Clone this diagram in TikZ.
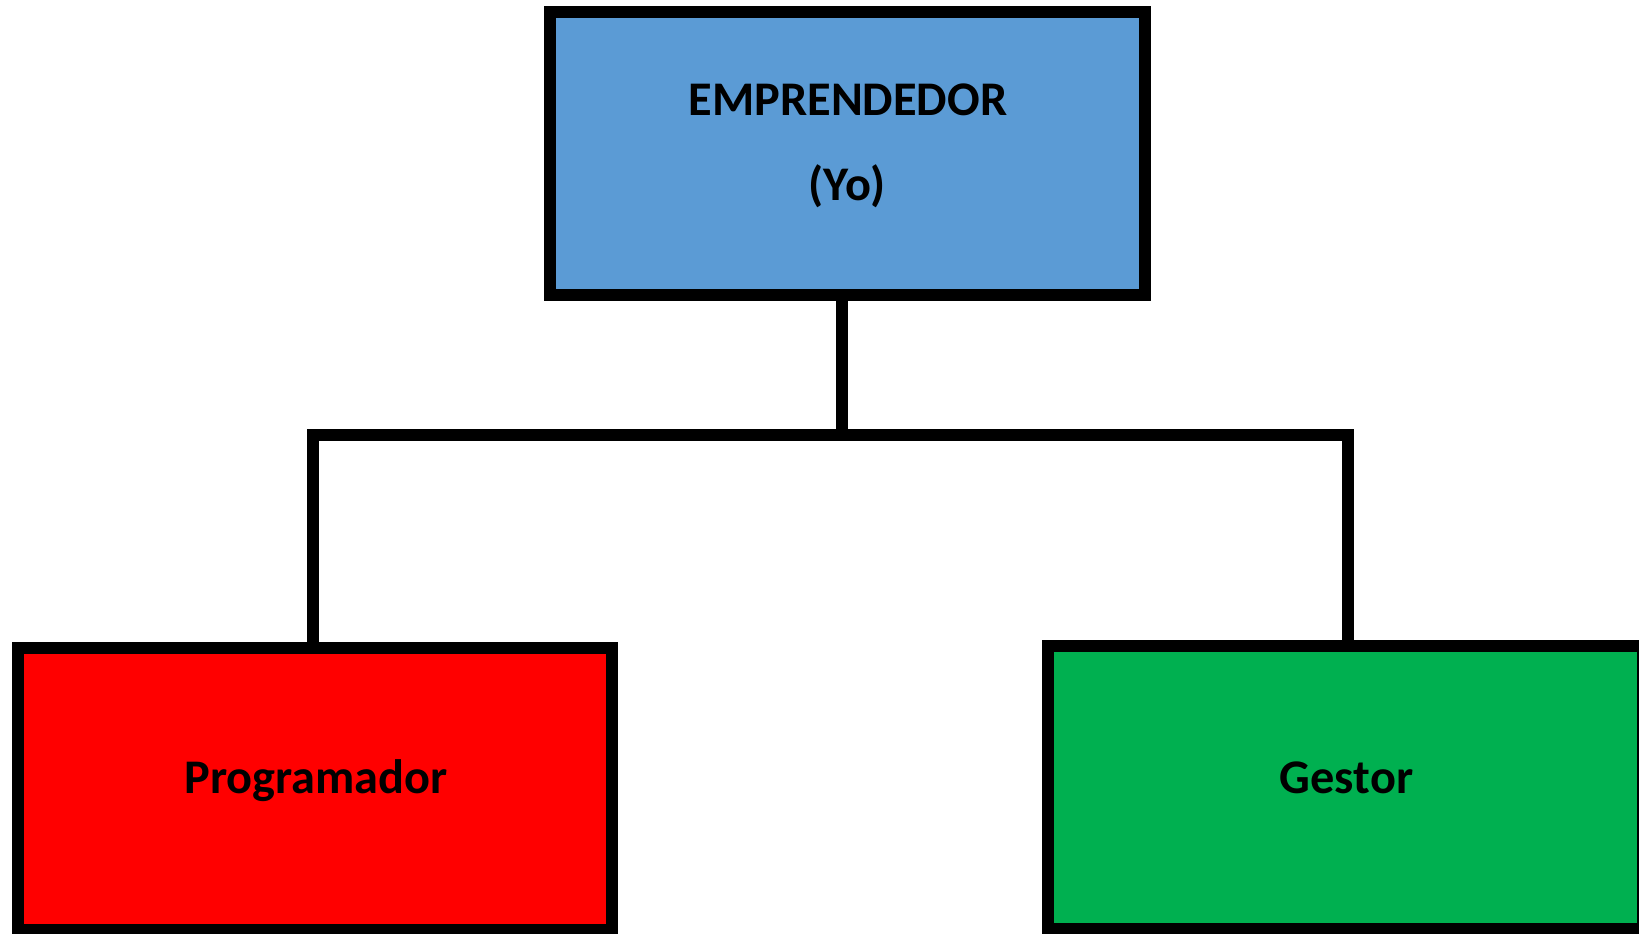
\documentclass[tikz,border=0pt]{standalone}
\usepackage{fontspec}
\setmainfont{Carlito}
\usepackage{tikz}
\definecolor{empblue}{HTML}{5B9BD5}
\definecolor{progred}{HTML}{FF0000}
\definecolor{gestgreen}{HTML}{00B050}

\begin{document}
\begin{tikzpicture}[x=0.02cm,y=-0.02cm,
  rolebox/.style={draw=black,line width=12*0.02cm,outer sep=0pt,
    minimum width=11.9cm,minimum height=5.66cm},
  roletext/.style={anchor=base,inner sep=0pt,
    font=\bfseries\fontsize{27.5}{33}\selectfont},
  link/.style={line width=12*0.02cm,line join=miter}]
% Canvas
\useasboundingbox (0,0) rectangle (1639,933);

% Boxes
\node[rolebox,fill=empblue] (emp) at (847.5,153.5) {};
\node[rolebox,fill=progred] (prog) at (315,789) {};
\node[rolebox,fill=gestgreen] (gest) at (1345.5,787.5) {};

% Labels
\node[roletext] (emptitle) at (848,115) {EMPRENDEDOR};
\node[roletext] (empyo) at (847,200) {(Yo)};
\node[roletext] (progtitle) at (316,793) {Programador};
\node[roletext] (gesttitle) at (1346.5,793) {Gestor};

% Tree lines
\coordinate (stem) at (842,435);
\coordinate (lft) at (313,435);
\coordinate (rgt) at (1348,435);
\draw[link] (stem |- emp.south) -- (stem);
\draw[link] (lft |- prog.north) -- (lft) -- (rgt) -- (rgt |- gest.north);

\end{tikzpicture}
\end{document}
